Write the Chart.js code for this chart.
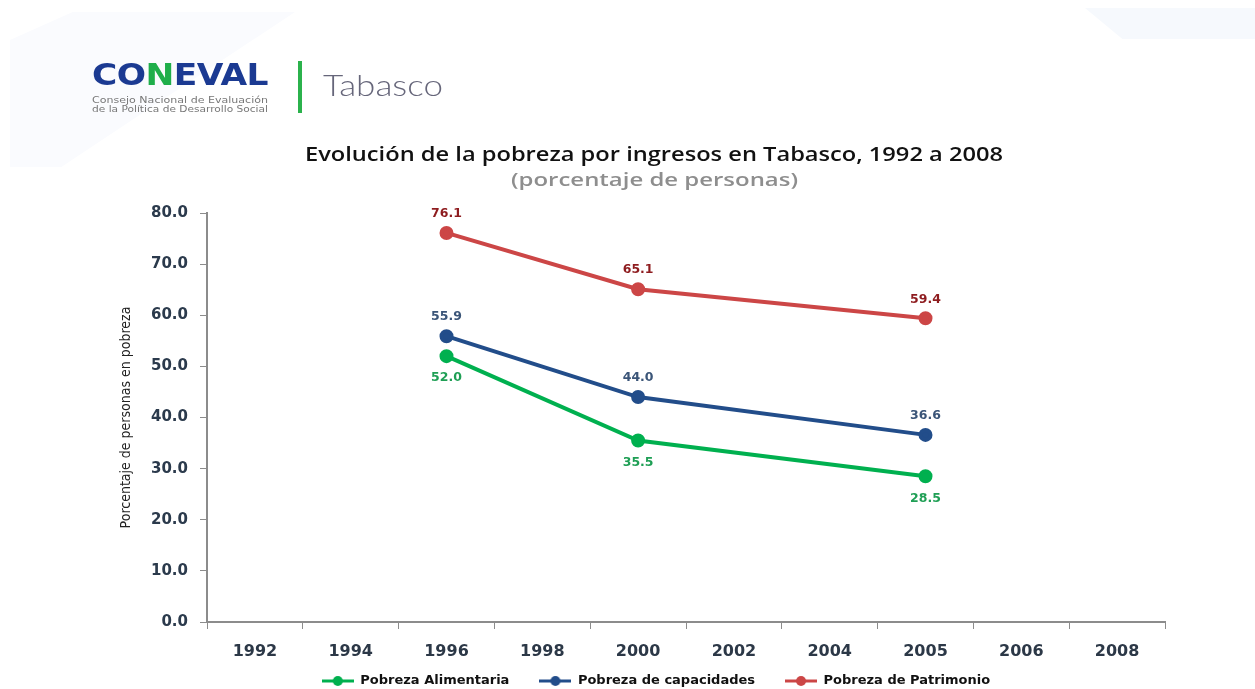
<!DOCTYPE html>
<html>
<head>
<meta charset="utf-8">
<script src="https://cdn.jsdelivr.net/npm/chart.js@4.4.1/dist/chart.umd.min.js"></script>
<style>
  html, body { margin:0; padding:0; background:#fff; }
  #stage { position:relative; width:1255px; height:689px; overflow:hidden; background:#fff; }
  #chart { position:absolute; left:0; top:0; }
  .abs { position:absolute; white-space:nowrap; transform-origin:0 0; }
  .bgpanel { position:absolute; background:#f6f9fd; }
</style>
</head>
<body>
<div id="stage">
  <div class="bgpanel" style="left:10px;top:12px;width:285px;height:155px;clip-path:polygon(22% 0,100% 0,100% 0,18% 100%,0 100%,0 18%);background:#fafbfe;"></div>
  <div class="bgpanel" style="left:1085px;top:8px;width:170px;height:31px;clip-path:polygon(0 0,100% 0,100% 100%,22% 100%);"></div>
  <canvas id="chart" width="1255" height="689"></canvas>

  <div class="abs fit" data-w="176" style="left:92px;top:56px;font:bold 31px 'DejaVu Sans';color:#1b3a92;letter-spacing:-0.5px;">CO<span style="color:#1fae4a">N</span>EVAL</div>
  <div class="abs fit" data-w="176" style="left:92px;top:96px;font:8px 'DejaVu Sans';color:#777;">Consejo Nacional de Evaluación</div>
  <div class="abs fit" data-w="176" style="left:92px;top:105px;font:8px 'DejaVu Sans';color:#777;">de la Política de Desarrollo Social</div>
  <div class="abs" style="left:298px;top:61px;width:4px;height:52px;background:#2bb24c;"></div>
  <div class="abs fit" data-w="120" style="left:323px;top:67px;font:300 29px 'Lato','Noto Sans';color:#66667a;">Tabasco</div>

  <div class="abs fitc" data-w="698" data-c="654" style="top:140px;font:600 20px 'Open Sans';color:#111;">Evolución de la pobreza por ingresos en Tabasco, 1992 a 2008</div>
  <div class="abs fitc" data-w="287" data-c="654" style="top:167px;font:600 18px 'Open Sans';color:#8e8e8e;">(porcentaje de personas)</div>
</div>
<script>
// ---- data ----
const years = ['1992','1994','1996','1998','2000','2002','2004','2005','2006','2008'];
const alimentaria = [null, null, 52.0, null, 35.5, null, null, 28.5, null, null];
const capacidades = [null, null, 55.9, null, 44.0, null, null, 36.6, null, null];
const patrimonio  = [null, null, 76.1, null, 65.1, null, null, 59.4, null, null];
const seriesNames = ['Pobreza Alimentaria', 'Pobreza de capacidades', 'Pobreza de Patrimonio'];
const yMin = 0, yMax = 80, yStep = 10;
const yTitle = 'Porcentaje de personas en pobreza';

// ---- stretch html text to reference widths ----
document.querySelectorAll('.fit').forEach(el => {
  const w = el.getBoundingClientRect().width;
  el.style.transform = 'scaleX(' + (parseFloat(el.dataset.w) / w) + ')';
});
document.querySelectorAll('.fitc').forEach(el => {
  const w = el.getBoundingClientRect().width;
  const tw = parseFloat(el.dataset.w), c = parseFloat(el.dataset.c);
  el.style.left = (c - tw / 2) + 'px';
  el.style.transform = 'scaleX(' + (tw / w) + ')';
});

const colors = {
  green: '#00b04f', blue: '#224d8a', red: '#cc4646',
  greenLbl: '#1f9f55', blueLbl: '#3b5578', redLbl: '#8e1c1f'
};

function legendMarker(color) {
  const c = document.createElement('canvas');
  c.width = 32; c.height = 12;
  const x = c.getContext('2d');
  x.strokeStyle = color; x.lineWidth = 3;
  x.beginPath(); x.moveTo(0, 6); x.lineTo(32, 6); x.stroke();
  x.fillStyle = color; x.beginPath(); x.arc(16, 6, 5, 0, Math.PI * 2); x.fill();
  return c;
}

const valueLabels = {
  id: 'valueLabels',
  afterDatasetsDraw(chart) {
    const ctx = chart.ctx;
    chart.data.datasets.forEach((ds, i) => {
      const meta = chart.getDatasetMeta(i);
      meta.data.forEach((pt, j) => {
        const v = ds.data[j];
        if (v == null) return;
        ctx.save();
        ctx.font = 'bold 12.5px "DejaVu Sans"';
        ctx.fillStyle = ds.labelColor;
        ctx.textAlign = 'center';
        ctx.textBaseline = 'middle';
        const dy = ds.labelPos === 'below' ? 22 : -19;
        ctx.fillText(v.toFixed(1), pt.x, pt.y + dy);
        ctx.restore();
      });
    });
  }
};

const LEGEND_PAD = 30, LEGEND_FONT = 13;
const legendShift = {
  id: 'legendShift',
  afterLayout(chart) {
    const l = chart.legend;
    if (!l) return;
    const dx = 656 - (l.left + l.right) / 2;
    l.left += dx; l.right += dx;
    const dy = (681 - LEGEND_PAD - LEGEND_FONT / 2) - l.top;
    l.top += dy; l.bottom += dy;
  }
};

Chart.defaults.font.family = '"DejaVu Sans", sans-serif';

const mk = (label, data, color, lblColor, pos) => ({
  label, data,
  borderColor: color, backgroundColor: color,
  pointBackgroundColor: color, pointBorderColor: color,
  borderWidth: 4, pointRadius: 5, pointHoverRadius: 5,
  spanGaps: true, tension: 0,
  labelColor: lblColor, labelPos: pos,
  marker: legendMarker(color)
});

new Chart(document.getElementById('chart'), {
  type: 'line',
  data: {
    labels: years,
    datasets: [
      mk(seriesNames[0], alimentaria, colors.green, colors.greenLbl, 'below'),
      mk(seriesNames[1], capacidades, colors.blue, colors.blueLbl, 'above'),
      mk(seriesNames[2], patrimonio, colors.red, colors.redLbl, 'above')
    ]
  },
  options: {
    responsive: false,
    animation: false,
    layout: { padding: { top: 213, left: 116, right: 90, bottom: -28 } },
    plugins: {
      tooltip: { enabled: false },
      legend: {
        position: 'bottom',
        labels: {
          usePointStyle: true,
          pointStyleWidth: 32,
          padding: LEGEND_PAD,
          color: '#111',
          font: { size: LEGEND_FONT, weight: 'bold', family: '"DejaVu Sans"' },
          generateLabels(chart) {
            return chart.data.datasets.map((ds, i) => ({
              text: ds.label, pointStyle: ds.marker, fillStyle: ds.borderColor,
              strokeStyle: ds.borderColor, lineWidth: 0, hidden: false, datasetIndex: i, fontColor: '#111'
            }));
          }
        }
      }
    },
    scales: {
      x: {
        offset: true,
        grid: { display: true, drawOnChartArea: false, offset: true, tickLength: 7, color: '#8c8c8c', lineWidth: 1 },
        border: { display: true, color: '#8c8c8c', width: 2 },
        ticks: { color: '#2c3847', font: { size: 16, weight: 'bold' }, padding: 13, autoSkip: false, maxRotation: 0 },
        afterFit(s) { s.height = 42; }
      },
      y: {
        min: yMin, max: yMax,
        grid: { display: true, drawOnChartArea: false, tickLength: 7, color: '#8c8c8c' },
        border: { display: true, color: '#8c8c8c', width: 2 },
        ticks: { stepSize: yStep, color: '#2b3a4c', font: { size: 15, weight: 'bold' }, padding: 12,
                 callback: v => Number(v).toFixed(1) },
        title: { display: true, text: yTitle, color: '#222',
                 font: { size: 14, family: '"Liberation Sans Narrow", "DejaVu Sans Condensed", sans-serif' },
                 padding: { top: 2, bottom: 0 } },
        afterFit(s) { s.width = 91; }
      }
    }
  },
  plugins: [valueLabels, legendShift]
});
</script>
</body>
</html>
